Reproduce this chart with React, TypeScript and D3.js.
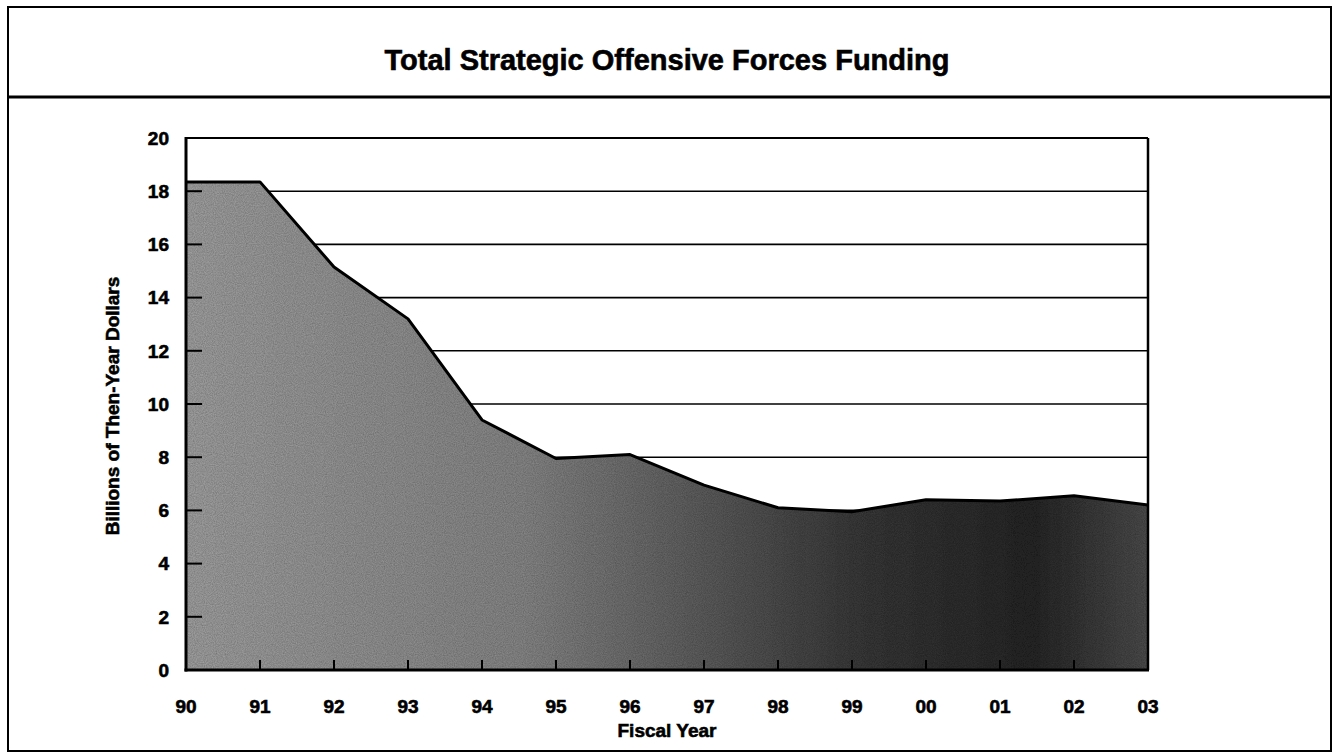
import React from 'react';
import * as d3 from 'd3';

const years = ['90', '91', '92', '93', '94', '95', '96', '97', '98', '99', '00', '01', '02', '03'];
const funding = [18.35, 18.35, 15.15, 13.2, 9.4, 7.95, 8.1, 6.95, 6.1, 5.95, 6.4, 6.35, 6.55, 6.2];
const yTicks = [0, 2, 4, 6, 8, 10, 12, 14, 16, 18, 20];

const title = 'Total Strategic Offensive Forces Funding';
const yTitle = 'Billions of Then-Year Dollars';
const xTitle = 'Fiscal Year';

const width = 1335;
const height = 755;
const marginLeft = 186;
const marginRight = 187;
const marginTop = 138;
const plotBottom = 670;

const font = '"Liberation Sans", Arial, Helvetica, sans-serif';
// scanned print looks heavier than the screen font, so thicken the glyphs a little
const heavy = { fontFamily: font, fontWeight: 'bold' as const, stroke: '#000', strokeWidth: 0.6 };

const App: React.FC = () => {
	const x = d3.scalePoint<string>().domain(years).range([marginLeft, width - marginRight]);
	const y = d3.scaleLinear().domain([0, 20]).range([plotBottom, marginTop]);

	const area = d3.area<number>()
		.x((_, i) => x(years[i]) ?? 0)
		.y0(y(0))
		.y1(d => y(d));

	const line = d3.line<number>()
		.x((_, i) => x(years[i]) ?? 0)
		.y(d => y(d));

	const x0 = marginLeft;
	const x1 = width - marginRight;

	return (
		<svg width={width} height={height} style={{ position: 'absolute', left: 0, top: 0, background: '#fff' }}>
			<defs>
				<linearGradient id="fillGrad" x1="0" y1="0" x2="1" y2="0">
					<stop offset="0%" stopColor="#a6a6a6" />
					<stop offset="35%" stopColor="#8c8c8c" />
					<stop offset="70%" stopColor="#3c3c3c" />
					<stop offset="88%" stopColor="#2a2a2a" />
					<stop offset="100%" stopColor="#505050" />
				</linearGradient>
				<filter id="grain" x="0" y="0" width="100%" height="100%">
					<feTurbulence type="fractalNoise" baseFrequency="0.9" numOctaves="2" seed="3" result="noise" />
					<feColorMatrix in="noise" type="matrix"
						values="0 0 0 0 0  0 0 0 0 0  0 0 0 0 0  0 0 0 0.55 0" result="dark" />
					<feComposite in="dark" in2="SourceGraphic" operator="in" result="dots" />
					<feMerge>
						<feMergeNode in="SourceGraphic" />
						<feMergeNode in="dots" />
					</feMerge>
				</filter>
			</defs>

			{/* outer frame and title box */}
			<rect x={8} y={7} width={1323} height={744} fill="none" stroke="#000" strokeWidth={2} />
			<line x1={8} x2={1331} y1={97} y2={97} stroke="#000" strokeWidth={3} />
			<text x={667} y={70} textAnchor="middle" fontSize={29} {...heavy}>{title}</text>

			{/* gridlines */}
			{yTicks.filter(t => t > 0 && t < 20).map(t => (
				<line key={t} x1={x0} x2={x1} y1={y(t)} y2={y(t)} stroke="#000" strokeWidth={1.6} />
			))}

			{/* area */}
			<path d={area(funding) ?? ''} fill="url(#fillGrad)" filter="url(#grain)" />
			<path d={line(funding) ?? ''} fill="none" stroke="#000" strokeWidth={3} strokeLinejoin="round" />

			{/* inner ticks */}
			{yTicks.filter(t => t > 0 && t < 20).map(t => (
				<line key={'yt' + t} x1={x0} x2={x0 + 16} y1={y(t)} y2={y(t)} stroke="#000" strokeWidth={2} />
			))}
			{years.slice(1, -1).map(yr => (
				<line key={'xt' + yr} x1={x(yr)} x2={x(yr)} y1={plotBottom} y2={plotBottom - 10} stroke="#000" strokeWidth={2} />
			))}

			{/* plot frame */}
			<line x1={x0} x2={x1} y1={marginTop} y2={marginTop} stroke="#000" strokeWidth={2} />
			<line x1={x1} x2={x1} y1={marginTop} y2={plotBottom} stroke="#000" strokeWidth={2.5} />
			<line x1={x0} x2={x0} y1={marginTop - 1} y2={plotBottom + 1.5} stroke="#000" strokeWidth={3} />
			<line x1={x0 - 1.5} x2={x1 + 1} y1={plotBottom} y2={plotBottom} stroke="#000" strokeWidth={3} />

			{/* y axis labels */}
			{yTicks.map(t => (
				<text key={'yl' + t} x={169} y={y(t)} dy="0.36em" textAnchor="end" fontSize={19} {...heavy}>{t}</text>
			))}
			<text transform={`translate(119,${(marginTop + plotBottom) / 2 + 2}) rotate(-90)`} textAnchor="middle"
				fontSize={19} {...heavy}>{yTitle}</text>

			{/* x axis labels */}
			{years.map(yr => (
				<text key={'xl' + yr} x={x(yr)} y={713} textAnchor="middle" fontSize={19} {...heavy}>{yr}</text>
			))}
			<text x={667} y={737} textAnchor="middle" fontSize={19} {...heavy}>{xTitle}</text>
		</svg>
	);
};

export default App;
